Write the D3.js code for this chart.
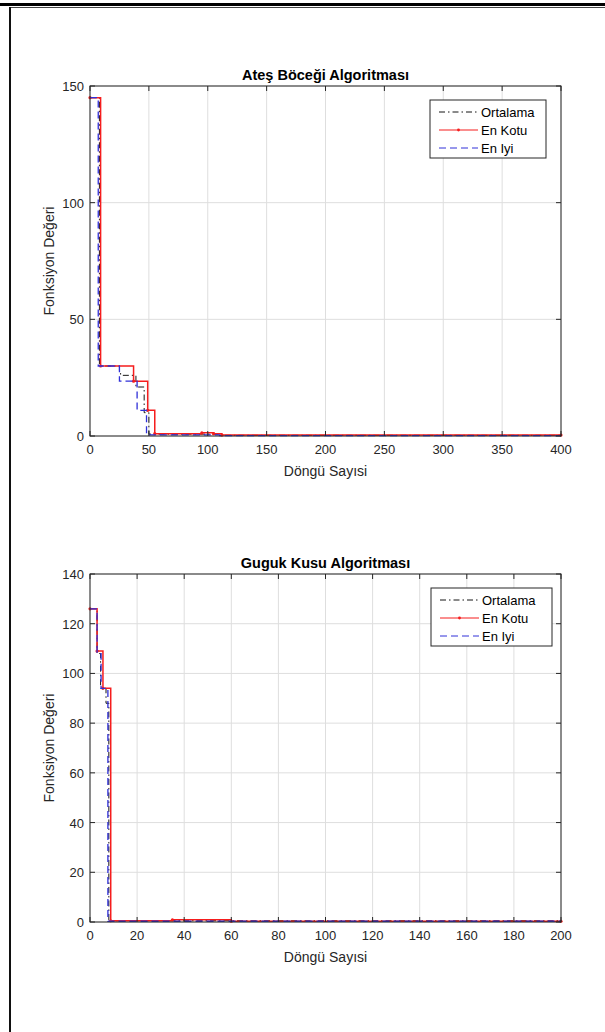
<!DOCTYPE html>
<html>
<head>
<meta charset="utf-8">
<script src="https://cdn.jsdelivr.net/npm/d3@7"></script>
<style>
  body { margin: 0; background: #fff; }
  svg { display: block; font-family: "Liberation Sans", Arial, sans-serif; }
</style>
</head>
<body>
<svg id="chart" width="605" height="1032"></svg>
<script>
// --- data: step change points (iteration, value) ---
const fireflyTitle = "Ateş Böceği Algoritması";
const fireflyXTicks = [0, 50, 100, 150, 200, 250, 300, 350, 400];
const fireflyYTicks = [0, 50, 100, 150];
const fireflyAvgX = [0, 8, 25, 26, 39, 46, 50, 110, 400];
const fireflyAvgY = [145, 30, 28, 26, 21, 10, 0.8, 0.3, 0.3];
const fireflyWorstX = [0, 9, 37, 49, 55, 95, 105, 112, 400];
const fireflyWorstY = [145, 30, 23.5, 11, 1, 1.4, 1, 0.4, 0.4];
const fireflyBestX = [0, 7, 25, 40, 48, 110, 400];
const fireflyBestY = [145, 30, 23.5, 11, 0.5, 0.2, 0.2];

const cuckooTitle = "Guguk Kusu Algoritması";
const cuckooXTicks = [0, 20, 40, 60, 80, 100, 120, 140, 160, 180, 200];
const cuckooYTicks = [0, 20, 40, 60, 80, 100, 120, 140];
const cuckooAvgX = [0, 3, 4.5, 6.8, 8, 200];
const cuckooAvgY = [126, 108, 94, 88, 0.5, 0.4];
const cuckooWorstX = [0, 3, 5.5, 8.8, 35, 60, 200];
const cuckooWorstY = [126, 109, 94, 0.5, 0.9, 0.3, 0.3];
const cuckooBestX = [0, 3, 4.7, 7.6, 200];
const cuckooBestY = [126, 108, 94, 0.3, 0.3];

const legendNames = ["Ortalama", "En Kotu", "En Iyi"];
const xLabel = "Döngü Sayısi";
const yLabel = "Fonksiyon Değeri";

const svg = d3.select("#chart");
const axisColor = "#262626";

// page frame
svg.append("rect").attr("x", 0).attr("y", 3).attr("width", 605).attr("height", 3).attr("fill", "#000");
svg.append("line").attr("x1", 9).attr("x2", 605).attr("y1", 7.5).attr("y2", 7.5).attr("stroke", "#444");
svg.append("rect").attr("x", 9).attr("y", 7).attr("width", 2).attr("height", 1025).attr("fill", "#111");

const styles = [
    {color: "#151515", dash: "6,3,1.5,3", width: 1},
    {color: "#f51d1d", dash: null, width: 1.5},
    {color: "#3030d8", dash: "7,4", width: 1.3}
];

function drawPanel(cfg) {
    const g = svg.append("g");
    const x = d3.scaleLinear().domain(cfg.xDomain).range([cfg.left, cfg.right]);
    const y = d3.scaleLinear().domain(cfg.yDomain).range([cfg.bottom, cfg.top]);

    // grid
    g.selectAll(".gx").data(cfg.xTicks).enter().append("line")
        .attr("x1", d => x(d)).attr("x2", d => x(d))
        .attr("y1", cfg.top).attr("y2", cfg.bottom)
        .attr("stroke", "#dedede");
    g.selectAll(".gy").data(cfg.yTicks).enter().append("line")
        .attr("y1", d => y(d)).attr("y2", d => y(d))
        .attr("x1", cfg.left).attr("x2", cfg.right)
        .attr("stroke", "#dedede");

    // series
    const line = d3.line().curve(d3.curveStepAfter)
        .x(d => x(d[0])).y(d => y(d[1]));
    cfg.series.forEach((s, i) => {
        const pts = s.x.map((v, j) => [v, s.y[j]]);
        g.append("path").attr("d", line(pts))
            .attr("fill", "none")
            .attr("stroke", styles[i].color)
            .attr("stroke-width", styles[i].width)
            .attr("stroke-dasharray", styles[i].dash);
        if (i == 1) {
            g.selectAll(".mk").data(pts).enter().append("circle")
                .attr("cx", d => x(d[0])).attr("cy", d => y(d[1]))
                .attr("r", 1.6).attr("fill", styles[i].color);
        }
    });

    // box and inward ticks
    g.append("rect").attr("x", cfg.left).attr("y", cfg.top)
        .attr("width", cfg.right - cfg.left).attr("height", cfg.bottom - cfg.top)
        .attr("fill", "none").attr("stroke", axisColor);
    const tl = 5;
    cfg.xTicks.forEach(t => {
        g.append("line").attr("x1", x(t)).attr("x2", x(t)).attr("y1", cfg.bottom).attr("y2", cfg.bottom - tl).attr("stroke", axisColor);
        g.append("line").attr("x1", x(t)).attr("x2", x(t)).attr("y1", cfg.top).attr("y2", cfg.top + tl).attr("stroke", axisColor);
    });
    cfg.yTicks.forEach(t => {
        g.append("line").attr("y1", y(t)).attr("y2", y(t)).attr("x1", cfg.left).attr("x2", cfg.left + tl).attr("stroke", axisColor);
        g.append("line").attr("y1", y(t)).attr("y2", y(t)).attr("x1", cfg.right).attr("x2", cfg.right - tl).attr("stroke", axisColor);
    });

    // tick labels
    g.selectAll(".tx").data(cfg.xTicks).enter().append("text")
        .attr("x", d => x(d)).attr("y", cfg.bottom + 18)
        .attr("text-anchor", "middle").attr("font-size", 13).attr("fill", axisColor)
        .text(d => d);
    g.selectAll(".ty").data(cfg.yTicks).enter().append("text")
        .attr("x", cfg.left - 6).attr("y", d => y(d) + 5)
        .attr("text-anchor", "end").attr("font-size", 13).attr("fill", axisColor)
        .text(d => d);

    // title and labels
    const cx = (cfg.left + cfg.right) / 2;
    g.append("text").attr("x", cx).attr("y", cfg.top - 6)
        .attr("text-anchor", "middle").attr("font-size", 14.5).attr("font-weight", "bold")
        .attr("fill", "#000").text(cfg.title);
    g.append("text").attr("x", cx).attr("y", cfg.bottom + 40)
        .attr("text-anchor", "middle").attr("font-size", 14).attr("fill", axisColor)
        .text(xLabel);
    g.append("text")
        .attr("transform", `translate(${cfg.left - 36},${(cfg.top + cfg.bottom) / 2}) rotate(-90)`)
        .attr("text-anchor", "middle").attr("font-size", 14).attr("fill", axisColor)
        .text(yLabel);

    // legend
    const lg = g.append("g").attr("transform", `translate(${cfg.legendX},${cfg.top + 14})`);
    lg.append("rect").attr("width", cfg.legendW).attr("height", 58)
        .attr("fill", "#fff").attr("stroke", axisColor);
    legendNames.forEach((name, i) => {
        const ly = 12 + i * 18;
        lg.append("line").attr("x1", 9).attr("x2", 48).attr("y1", ly).attr("y2", ly)
            .attr("stroke", styles[i].color).attr("stroke-width", 1)
            .attr("stroke-dasharray", styles[i].dash);
        if (i == 1) {
            lg.append("circle").attr("cx", 28.5).attr("cy", ly).attr("r", 1.4).attr("fill", styles[i].color);
        }
        lg.append("text").attr("x", 51).attr("y", ly + 4.5)
            .attr("font-size", 13).attr("fill", "#000").text(name);
    });
}

drawPanel({
    title: fireflyTitle,
    left: 90, right: 561, top: 86, bottom: 436,
    xDomain: [0, 400], yDomain: [0, 150],
    xTicks: fireflyXTicks, yTicks: fireflyYTicks,
    legendX: 430, legendW: 116,
    series: [
        {x: fireflyAvgX, y: fireflyAvgY},
        {x: fireflyWorstX, y: fireflyWorstY},
        {x: fireflyBestX, y: fireflyBestY}
    ]
});

drawPanel({
    title: cuckooTitle,
    left: 90, right: 561, top: 574, bottom: 922,
    xDomain: [0, 200], yDomain: [0, 140],
    xTicks: cuckooXTicks, yTicks: cuckooYTicks,
    legendX: 431, legendW: 121,
    series: [
        {x: cuckooAvgX, y: cuckooAvgY},
        {x: cuckooWorstX, y: cuckooWorstY},
        {x: cuckooBestX, y: cuckooBestY}
    ]
});
</script>
</body>
</html>
